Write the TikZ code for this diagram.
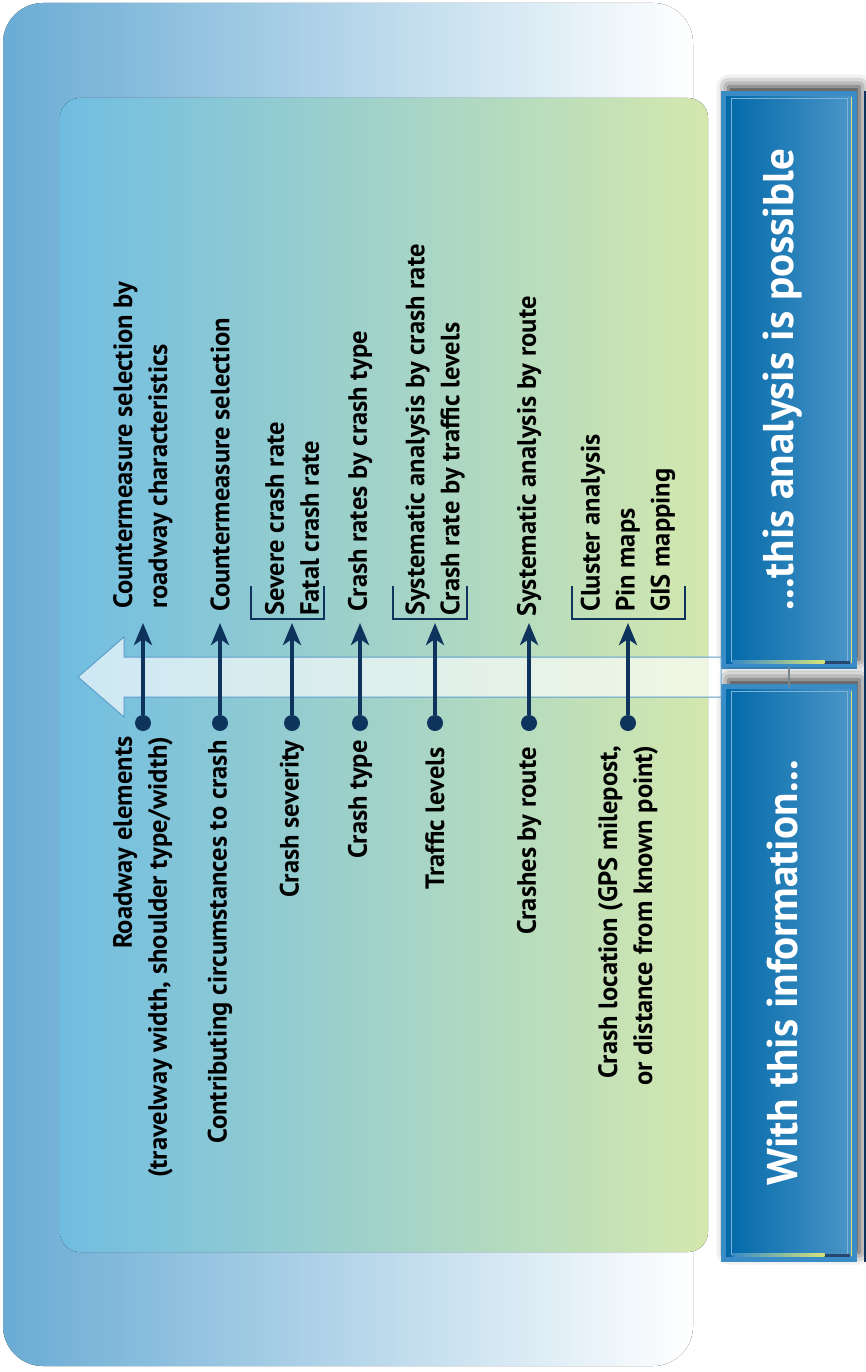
\documentclass[tikz,border=0pt]{standalone}
\usepackage{fontspec}
\setmainfont{PT Sans}
\usetikzlibrary{positioning, arrows.meta, shadows.blur}

\definecolor{navy}{RGB}{14,52,94}
\definecolor{outerL}{RGB}{106,172,212}
\definecolor{innerL}{RGB}{112,189,226}
\definecolor{innerM}{RGB}{163,209,188}
\definecolor{innerR}{RGB}{212,232,174}
\definecolor{bandline}{RGB}{92,158,202}
\definecolor{frameblue}{RGB}{58,140,198}
\definecolor{panelL}{RGB}{0,104,168}
\definecolor{panelM}{RGB}{0,134,190}
\definecolor{panelR}{RGB}{76,150,200}
\definecolor{panelline}{RGB}{126,178,214}
\definecolor{lime}{RGB}{214,228,120}

\begin{document}
\begin{tikzpicture}[x=1pt, y=-1pt,
      dot/.style={circle, fill=navy, minimum size=16pt, inner sep=0pt},
      link/.style={-{Stealth[length=22pt, width=18pt, inset=6pt]}, navy, line width=4.5pt},
      brk/.style={navy, line width=2.5pt},
      up/.style={rotate=90, anchor=west, align=left, inner sep=0pt, font=\bfseries\fontsize{26.5}{35}\selectfont},
      low/.style={rotate=90, anchor=east, align=right, inner sep=0pt, font=\bfseries\fontsize{26.5}{35}\selectfont},
      panel/.style={rectangle, draw=frameblue, line width=5pt, outer sep=0pt, left color=panelL, middle color=panelM, right color=panelR,
        minimum width=131pt, minimum height=573pt, blur shadow={shadow xshift=5pt, shadow yshift=7pt, shadow blur radius=12pt, shadow opacity=85}},
      title/.style={rotate=90, text=white, font=\bfseries\fontsize{43}{48}\selectfont}]

      \useasboundingbox (0,0) rectangle (866,1372);

      % backgrounds
      \fill[left color=outerL, right color=white, rounded corners=40pt] (3,3) rectangle (693,1366);
      \fill[left color=innerL, middle color=innerM, right color=innerR, rounded corners=20pt] (60,98) rectangle (708,1252);

      % right hand panels
      \node[panel] (top) at (789,380) {};
      \node[panel] (bot) at (789,973) {};
      \fill[navy] (864,91) rectangle (866,1262);
      \foreach \p in {top, bot} {
        \draw[panelline, line width=1.5pt] ([shift={(8,5)}]\p.north west) rectangle ([shift={(-7,-5)}]\p.south east);
        \draw[lime, line width=1.2pt] ([shift={(-3,4)}]\p.north east) -- ([shift={(-3,-4)}]\p.south east);
        \fill[left color=frameblue, right color=lime] ([shift={(9,-6)}]\p.south west) rectangle ([shift={(-30,-3)}]\p.south east);
        \fill[navy!90] ([shift={(-30,-6)}]\p.south east) rectangle ([shift={(-5,-3)}]\p.south east);
      }
      \node[title] (ttop) at ([xshift=-6pt]top) {...this analysis is possible};
      \node[title] (tbot) at ([xshift=-6pt]bot) {With this information...};
      \draw[gray!80!bandline, line width=1.2pt] (top) -- (bot);

      % big arrow
      \draw[bandline, line width=1pt, fill=white, fill opacity=0.65]
        (78,677) -- (124,637) -- (124,657) -- (721,657) -- (721,697) -- (124,697) -- (124,717) -- cycle;

      % information -> analysis
      \node[dot] (d1) at (143,723) {};
      \node[dot] (d2) at (220,723) {};
      \node[dot] (d3) at (292,723) {};
      \node[dot] (d4) at (360,723) {};
      \node[dot] (d5) at (435,723) {};
      \node[dot] (d6) at (529,723) {};
      \node[dot] (d7) at (628,723) {};
      \coordinate (t1) at (143,623);
      \coordinate (t2) at (220,623);
      \coordinate (t3) at (292,623);
      \coordinate (t4) at (360,623);
      \coordinate (t5) at (435,623);
      \coordinate (t6) at (529,623);
      \coordinate (t7) at (628,623);

      \draw[brk] (251,586) |- (324,619) -- (324,586);
      \draw[brk] (393,586) |- (467,619) -- (467,586);
      \draw[brk] (572,586) |- (685,619) -- (685,586);

      \path[link]
        (d1) edge (t1)  (d2) edge (t2)  (d3) edge (t3)  (d4) edge (t4)
        (d5) edge (t5)  (d6) edge (t6)  (d7) edge (t7);

      \node[below=9pt of d1, low, xshift=4pt] (r1) {Roadway elements\\(travelway width, shoulder type/width)};
      \node[below=9pt of d2, low] (r2) {Contributing circumstances to crash};
      \node[below=9pt of d3, low] (r3) {Crash severity};
      \node[below=9pt of d4, low] (r4) {Crash type};
      \node[below=9pt of d5, low, xshift=-7pt] (r5) {Traffic levels};
      \node[below=9pt of d6, low, xshift=-7pt] (r6) {Crashes by route};
      \node[below=9pt of d7, low, xshift=-5pt] (r7) {Crash location (GPS milepost,\\or distance from known point)};

      \node[above=11pt of t1, up, xshift=3pt] (a1) {Countermeasure selection by\\roadway characteristics};
      \node[above=11pt of t2, up] (a2) {Countermeasure selection};
      \node[above=11pt of t3, up, xshift=-4pt] (a3) {Severe crash rate\\Fatal crash rate};
      \node[above=11pt of t4, up] (a4) {Crash rates by crash type};
      \node[above=11pt of t5, up, xshift=-4pt] (a5) {Systematic analysis by crash rate\\Crash rate by traffic levels};
      \node[above=11pt of t6, up, xshift=-5pt] (a6) {Systematic analysis by route};
      \node[above=11pt of t7, up] (a7) {Cluster analysis\\Pin maps\\GIS mapping};
\end{tikzpicture}
\end{document}
